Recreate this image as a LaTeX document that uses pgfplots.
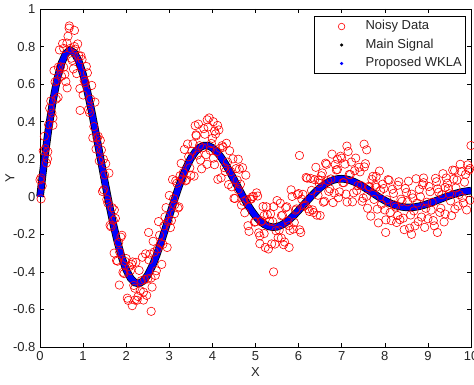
\documentclass[border=0pt]{standalone}
\usepackage{pgfplots}
\pgfplotsset{compat=1.18}
\usepackage{fontspec}
\setmainfont{Liberation Sans}

\pgfplotstableread{
x y
0.00 0.09
0.05 0.058
0.10 0.322
0.15 0.18
0.20 0.384
0.25 0.51
0.30 0.381
0.35 0.612
0.40 0.618
0.45 0.782
0.50 0.642
0.55 0.79
0.60 0.613
0.65 0.855
0.70 0.79
0.75 0.726
0.80 0.886
0.85 0.656
0.90 0.751
0.95 0.75
1.00 0.542
1.05 0.608
1.10 0.66
1.15 0.448
1.20 0.593
1.25 0.374
1.30 0.254
1.35 0.322
1.40 0.30
1.45 0.028
1.50 0.116
1.55 -0.014
1.60 0.126
1.65 -0.16
1.70 -0.125
1.75 -0.115
1.80 -0.343
1.85 -0.295
1.90 -0.205
1.95 -0.409
2.00 -0.329
2.05 -0.552
2.10 -0.393
2.15 -0.347
2.20 -0.487
2.25 -0.551
2.30 -0.392
2.35 -0.447
2.40 -0.508
2.45 -0.304
2.50 -0.437
2.55 -0.305
2.60 -0.481
2.65 -0.294
2.70 -0.394
2.75 -0.132
2.80 -0.248
2.85 -0.253
2.90 -0.107
2.95 -0.27
3.00 0.007
3.05 -0.126
3.10 -0.01
3.15 0.085
3.20 -0.06
3.25 0.112
3.30 0.094
3.35 0.252
3.40 0.089
3.45 0.213
3.50 0.115
3.55 0.282
3.60 0.379
3.65 0.222
3.70 0.272
3.75 0.149
3.80 0.363
3.85 0.224
3.90 0.372
3.95 0.247
4.00 0.311
4.05 0.171
4.10 0.24
4.15 0.356
4.20 0.101
4.25 0.264
4.30 0.135
4.35 0.185
4.40 0.245
4.45 0.053
4.50 -0.008
4.55 0.15
4.60 0.038
4.65 0.067
4.70 0.155
4.75 -0.085
4.80 -0.015
4.85 -0.184
4.90 -0.012
4.95 0.002
5.00 -0.133
5.05 0.004
5.10 -0.208
5.15 -0.128
5.20 -0.196
5.25 -0.053
5.30 -0.278
5.35 -0.091
5.40 -0.132
5.45 -0.252
5.50 -0.02
5.55 -0.177
5.60 -0.101
5.65 -0.255
5.70 -0.058
5.75 -0.129
5.80 -0.179
5.85 0.002
5.90 -0.137
5.95 -0.065
6.00 0.017
6.05 -0.19
6.10 0.013
6.15 -0.044
6.20 0.099
6.25 -0.078
6.30 0.034
6.35 -0.084
6.40 0.157
6.45 0.008
6.50 0.088
6.55 0.127
6.60 -0.024
6.65 0.173
6.70 0.029
6.75 0.095
6.80 -0.031
6.85 0.172
6.90 0.145
6.95 0.026
7.00 0.206
7.05 0.075
7.10 0.014
7.15 0.241
7.20 0.118
7.25 -0.027
7.30 0.139
7.35 0.033
7.40 0.157
7.45 0.06
7.50 -0.007
7.55 0.176
7.60 -0.061
7.65 0.051
7.70 0.093
7.75 -0.014
7.80 0.108
7.85 -0.139
7.90 0.033
7.95 0.067
8.00 -0.07
8.05 -0.016
8.10 0.088
8.15 -0.127
8.20 0.018
8.25 -0.055
8.30 0.061
8.35 -0.122
8.40 -0.024
8.45 -0.175
8.50 0.023
8.55 0.083
8.60 -0.097
8.65 -0.006
8.70 -0.155
8.75 -0.033
8.80 0.039
8.85 -0.108
8.90 0.075
8.95 -0.061
9.00 -0.117
9.05 0.027
9.10 -0.029
9.15 -0.155
9.20 0.08
9.25 0.024
9.30 -0.061
9.35 0.123
9.40 -0.092
9.45 0.072
9.50 0.016
9.55 -0.10
9.60 0.094
9.65 0.047
9.70 -0.049
9.75 0.173
9.80 -0.004
9.85 0.078
9.90 -0.07
9.95 0.141
10.00 0.273
0.02 0.10
0.68 0.91
0.63 0.58
0.93 0.46
1.47 0.20
1.72 -0.30
2.14 -0.58
2.58 -0.61
2.52 -0.19
3.12 -0.09
3.88 0.41
4.02 0.40
4.12 0.38
5.42 -0.40
5.78 -0.27
6.02 0.22
6.46 0.09
7.12 0.27
7.52 0.28
7.58 0.25
8.02 -0.19
8.62 -0.20
9.22 -0.19
9.62 0.14
9.97 0.15
4.60 0.20
4.05 0.35
3.62 0.33
1.84 -0.47
2.20 -0.55
2.40 -0.55
0.80 0.80
0.55 0.69
0.42 0.53
0.30 0.42
0.18 0.24
6.90 0.20
6.50 -0.10
5.10 -0.25
7.80 0.05
8.30 -0.10
8.90 0.10
9.40 0.05
5.60 -0.22
5.20 -0.10
0.025 -0.011
0.075 0.245
0.125 0.256
0.175 0.202
0.225 0.472
0.275 0.446
0.325 0.672
0.375 0.52
0.425 0.69
0.475 0.692
0.525 0.816
0.575 0.652
0.625 0.819
0.675 0.898
0.725 0.738
0.775 0.681
0.825 0.786
0.875 0.814
0.925 0.576
0.975 0.731
1.025 0.62
1.075 0.694
1.125 0.464
1.175 0.52
1.225 0.314
1.275 0.504
1.325 0.313
1.375 0.191
1.425 0.249
1.475 0.037
1.525 0.176
1.575 -0.034
1.625 -0.152
1.675 -0.058
1.725 -0.07
1.775 -0.339
1.825 -0.244
1.875 -0.215
1.925 -0.402
1.975 -0.344
2.025 -0.54
2.075 -0.372
2.125 -0.36
2.175 -0.472
2.225 -0.349
2.275 -0.531
2.325 -0.50
2.375 -0.322
2.425 -0.441
2.475 -0.525
2.525 -0.336
2.575 -0.433
2.625 -0.237
2.675 -0.419
2.725 -0.278
2.775 -0.205
2.825 -0.36
2.875 -0.155
2.925 -0.058
2.975 -0.131
3.025 -0.164
3.075 0.092
3.125 -0.042
3.175 0.072
3.225 -0.054
3.275 0.178
3.325 0.128
3.375 0.085
3.425 0.281
3.475 0.154
3.525 0.243
3.575 0.11
3.625 0.325
3.675 0.387
3.725 0.195
3.775 0.261
3.825 0.333
3.875 0.173
3.925 0.42
3.975 0.284
4.025 0.206
4.075 0.335
4.125 0.093
4.175 0.258
4.225 0.272
4.275 0.155
4.325 0.285
4.375 0.065
4.425 0.134
4.475 0.202
4.525 -0.009
4.575 0.089
4.625 0.147
4.675 -0.044
4.725 -0.025
4.775 0.115
4.825 -0.154
4.875 -0.013
4.925 0.00
4.975 -0.135
5.025 0.021
5.075 -0.192
5.125 -0.133
5.175 -0.052
5.225 -0.27
5.275 -0.095
5.325 -0.13
5.375 -0.251
5.425 -0.052
5.475 -0.181
5.525 -0.218
5.575 -0.034
5.625 -0.098
5.675 -0.241
5.725 -0.053
5.775 -0.154
5.825 0.037
5.875 -0.172
5.925 -0.071
5.975 0.011
6.025 -0.176
6.075 -0.013
6.125 -0.05
6.175 0.103
6.225 -0.064
6.275 0.098
6.325 -0.07
6.375 0.091
6.425 -0.098
6.475 0.073
6.525 0.112
6.575 -0.029
6.625 0.179
6.675 0.086
6.725 0.042
6.775 0.227
6.825 0.02
6.875 0.143
6.925 -0.005
6.975 0.216
7.025 0.075
7.075 0.174
7.125 -0.028
7.175 0.119
7.225 0.185
7.275 0.021
7.325 0.206
7.375 0.06
7.425 0.133
7.475 -0.024
7.525 0.159
7.575 0.002
7.625 0.055
7.675 -0.103
7.725 0.109
7.775 0.062
7.825 -0.066
7.875 0.137
7.925 -0.04
7.975 0.044
8.025 -0.123
8.075 0.091
8.125 -0.084
8.175 0.04
8.225 -0.043
8.275 -0.137
8.325 0.08
8.375 -0.013
8.425 -0.114
8.475 0.044
8.525 -0.027
8.575 -0.167
8.625 0.014
8.675 -0.075
8.725 0.096
8.775 -0.132
8.825 0.00
8.875 0.064
8.925 -0.163
8.975 -0.029
9.025 0.055
9.075 -0.071
9.125 -0.127
9.175 0.098
9.225 0.042
9.275 -0.083
9.325 0.011
9.375 -0.134
9.425 0.10
9.475 0.044
9.525 -0.022
9.575 0.142
9.625 -0.065
9.675 0.089
9.725 0.012
9.775 0.134
9.825 -0.033
9.875 0.119
9.925 0.17
9.975 -0.018
}\noisy

\pgfplotstableread{
x y
0.0 0.0
0.1 0.1922
0.2 0.3643
0.3 0.5109
0.4 0.6278
0.5 0.7123
0.6 0.7631
0.7 0.7804
0.8 0.7656
0.9 0.7214
1.0 0.6515
1.1 0.5603
1.2 0.4528
1.3 0.3342
1.4 0.2101
1.5 0.0856
1.6 -0.0342
1.7 -0.1450
1.8 -0.2429
1.9 -0.3248
2.0 -0.3886
2.1 -0.4328
2.2 -0.4571
2.3 -0.4616
2.4 -0.4476
2.5 -0.4167
2.6 -0.3714
2.7 -0.3142
2.8 -0.2482
2.9 -0.1767
3.0 -0.1028
3.1 -0.0296
3.2 0.0401
3.3 0.1037
3.4 0.1591
3.5 0.2046
3.6 0.2390
3.7 0.2618
3.8 0.2727
3.9 0.2721
4.0 0.2608
4.1 0.2398
4.2 0.2107
4.3 0.1752
4.4 0.1349
4.5 0.0920
4.6 0.0481
4.7 0.0052
4.8 -0.0352
4.9 -0.0716
5.0 -0.1028
5.1 -0.1279
5.2 -0.1463
5.3 -0.1575
5.4 -0.1621
5.5 -0.1599
5.6 -0.1514
5.7 -0.1375
5.8 -0.1190
5.9 -0.0970
6.0 -0.0726
6.1 -0.0469
6.2 -0.0211
6.3 0.0041
6.4 0.0274
6.5 0.0481
6.6 0.0656
6.7 0.0793
6.8 0.0890
6.9 0.0946
7.0 0.0961
7.1 0.0936
7.2 0.0876
7.3 0.0785
7.4 0.0669
7.5 0.0534
7.6 0.0387
7.7 0.0233
7.8 0.0080
7.9 -0.0066
8.0 -0.0200
8.1 -0.0318
8.2 -0.0415
8.3 -0.0489
8.4 -0.0540
8.5 -0.0566
8.6 -0.0567
8.7 -0.0546
8.8 -0.0505
8.9 -0.0446
9.0 -0.0374
9.1 -0.0291
9.2 -0.0202
9.3 -0.0111
9.4 -0.0022
9.5 0.0063
9.6 0.0140
9.7 0.0206
9.8 0.0260
9.9 0.0300
10.0 0.0326
}\signal

\begin{document}
\fontsize{13bp}{15bp}\selectfont
\begin{tikzpicture}
\fill[white] (-40bp,-38bp) rectangle (434bp,347bp);
\begin{axis}[
  at={(0,0)}, anchor=south west,
  scale only axis, width=431bp, height=338bp,
  xmin=0, xmax=10, ymin=-0.8, ymax=1,
  xtick={0,1,2,3,4,5,6,7,8,9,10},
  ytick={-0.8,-0.6,-0.4,-0.2,0,0.2,0.4,0.6,0.8,1},
  tick align=inside, major tick length=4bp,
  axis line style={line width=0.8bp},
  tick style={line width=0.6bp, black},
  /pgf/number format/assume math mode=true,
  ticklabel style={font=\fontsize{13bp}{15bp}\selectfont, text=black!85},
  xlabel={X}, ylabel={Y},
  label style={font=\fontsize{13bp}{15bp}\selectfont, text=black!85},
  xlabel style={at={(axis description cs:0.5,0)}, anchor=center, yshift=-25bp},
  ylabel style={at={(axis description cs:0,0.5)}, anchor=center, yshift=30bp},
  clip=false,
  legend cell align=left,
  legend style={at={(rel axis cs:1,1)}, anchor=north east, xshift=-5bp, yshift=-7bp,
    draw=black, line width=0.6bp, inner sep=2bp,
    font=\fontsize{13bp}{15bp}\selectfont,
    nodes={inner sep=2bp, text height=9.5bp, text depth=3bp, text=black!85},
    row sep=2bp},
]
\addplot[forget plot, only marks, mark=o, mark size=4.2bp, red, mark options={line width=0.6bp}]
  table[x=x,y=y] {\noisy};
\addplot[forget plot, black, line width=7.5bp, no marks]
  table[x=x,y=y] {\signal};
\addplot[forget plot, blue, line width=6bp, no marks]
  table[x=x,y=y] {\signal};
\addlegendimage{legend image code/.code={\path[draw=none,fill=none] (0bp,0) -- (47bp,0); \draw[red, line width=0.6bp, fill=none] (25bp,0) circle (3.3bp);}}
\addlegendentry{Noisy Data}
\addlegendimage{legend image code/.code={\path[draw=none,fill=none] (0bp,0) -- (47bp,0); \fill[black, draw=none] (25bp,0) circle (1.7bp);}}
\addlegendentry{Main Signal}
\addlegendimage{legend image code/.code={\path[draw=none,fill=none] (0bp,0) -- (47bp,0); \fill[blue, draw=none] (25bp,0) circle (1.7bp);}}
\addlegendentry{Proposed WKLA}
\end{axis}
\pgfresetboundingbox
\useasboundingbox (-40bp,-38bp) rectangle (434bp,347bp);
\end{tikzpicture}
\end{document}
